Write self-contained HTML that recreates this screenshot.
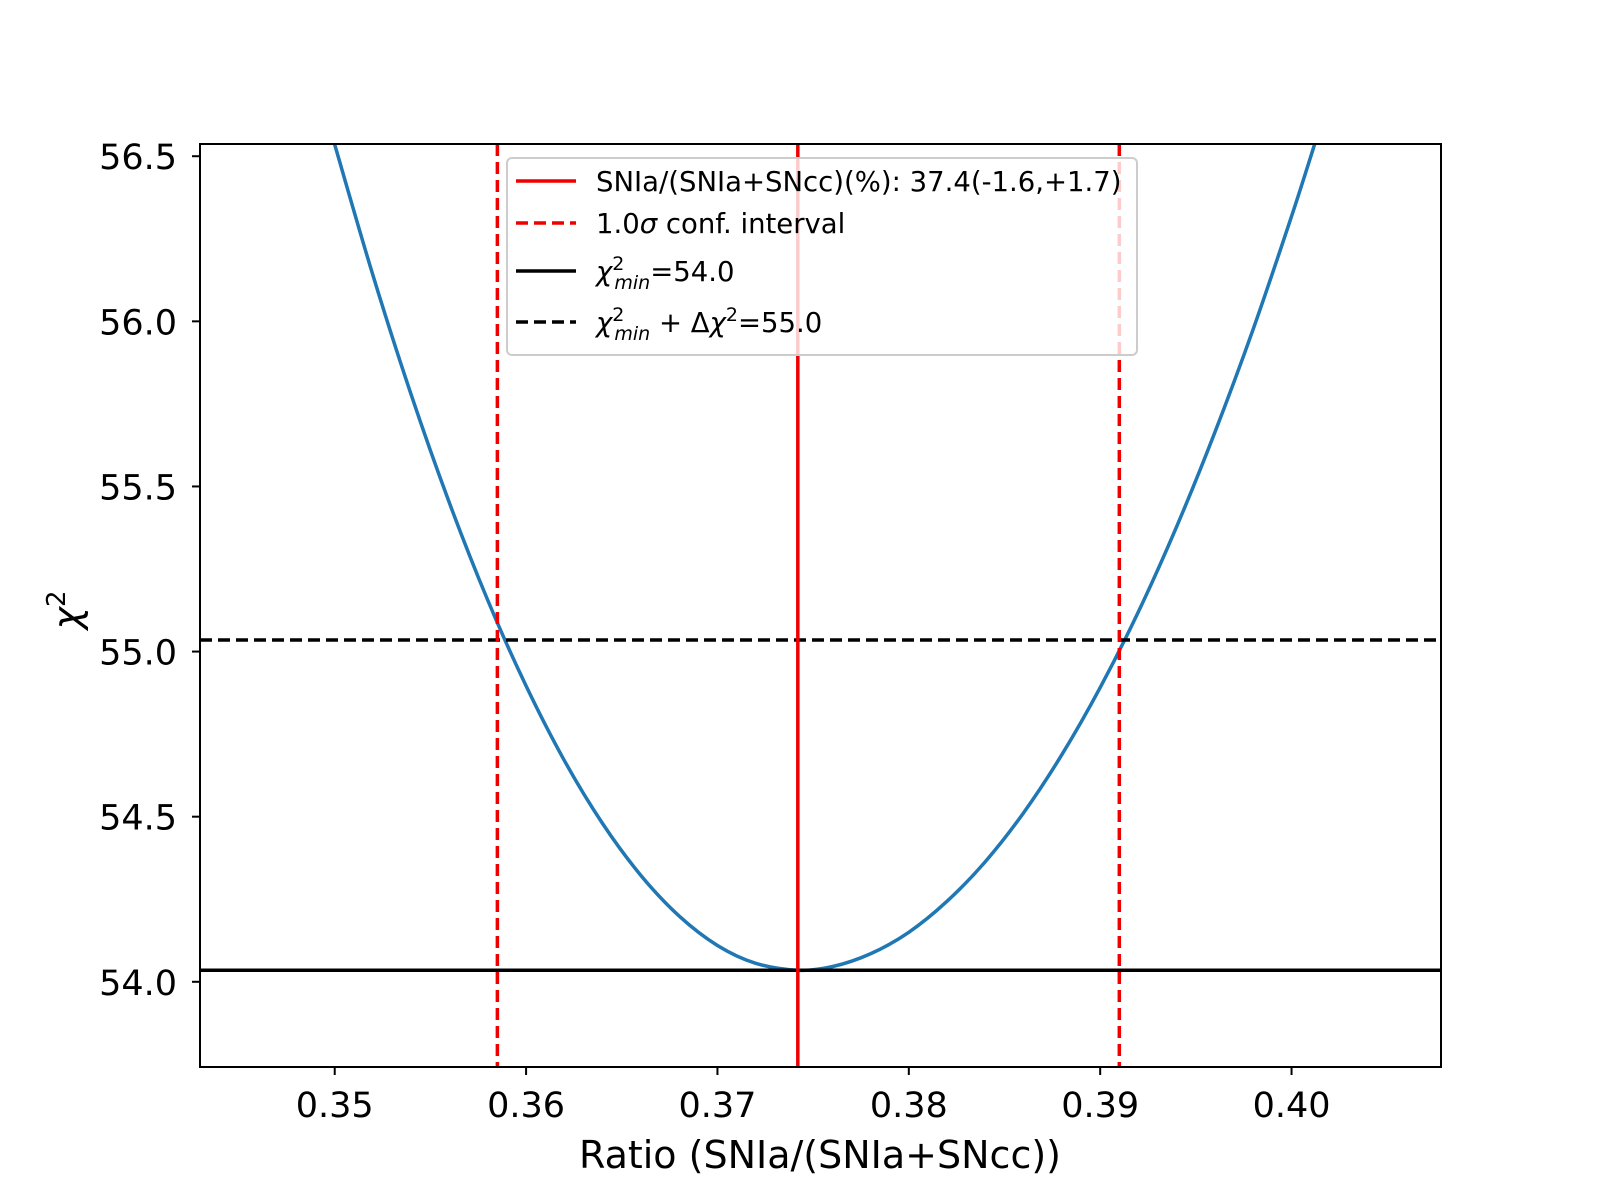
<!DOCTYPE html>
<html><head><meta charset="utf-8"><style>
body{margin:0;background:#fff}
svg{display:block}
text{font-family:"DejaVu Sans","Liberation Sans",sans-serif;fill:#000}
</style></head><body>
<svg id="chart" width="1600" height="1200" viewBox="0 0 1600 1200">
<defs><clipPath id="clip"><rect x="200" y="144" width="1241" height="923"/></clipPath></defs>
<g id="ticks"></g>
<g id="plot" clip-path="url(#clip)"></g>
<rect x="200" y="144" width="1241" height="923" fill="none" stroke="#000" stroke-width="2"/>
<text x="820" y="1168" font-size="38" text-anchor="middle">Ratio (SNIa/(SNIa+SNcc))</text>
<text transform="translate(80,610) rotate(-90)" font-size="38" text-anchor="middle"><tspan font-style="italic">χ</tspan><tspan font-size="26" dy="-15">2</tspan></text>
<g id="legend">
<rect x="507" y="158" width="630" height="197" rx="5" fill="#fff" fill-opacity="0.8" stroke="#ccc" stroke-width="2"/>
<g><line x1="516" y1="181" x2="576" y2="181" stroke="#e00" stroke-width="3.5"/><text x="596" y="191" font-size="27.5">SNIa/(SNIa+SNcc)(%): 37.4(-1.6,+1.7)</text></g>
<g><line x1="516" y1="223" x2="576" y2="223" stroke="#e00" stroke-width="3.5" stroke-dasharray="12,6"/><text x="596" y="233" font-size="27.5">1.0<tspan font-style="italic">σ</tspan> conf. interval</text></g>
<g><line x1="516" y1="271" x2="576" y2="271" stroke="#000" stroke-width="3.5"/><text x="596" y="281" font-size="27.5"><tspan font-style="italic">χ</tspan><tspan font-size="19" dy="-11">2</tspan><tspan font-size="19" font-style="italic" dx="-10" dy="19">min</tspan><tspan dy="-8">=54.0</tspan></text></g>
<g><line x1="516" y1="322" x2="576" y2="322" stroke="#000" stroke-width="3.5" stroke-dasharray="12,6"/><text x="596" y="332" font-size="27.5"><tspan font-style="italic">χ</tspan><tspan font-size="19" dy="-11">2</tspan><tspan font-size="19" font-style="italic" dx="-10" dy="19">min</tspan><tspan dy="-8"> + Δ</tspan><tspan font-style="italic">χ</tspan><tspan font-size="19" dy="-11">2</tspan><tspan dy="11">=55.0</tspan></text></g>
</g>
</svg>
<script>
const curveX=[0.350,0.352,0.354,0.356,0.358,0.360,0.362,0.364,0.366,0.368,0.370,0.372,0.3742,0.376,0.378,0.380,0.382,0.384,0.386,0.388,0.390,0.392,0.394,0.396,0.398,0.400,0.4012];
const curveY=[56.535,56.139,55.777,55.449,55.155,54.896,54.670,54.479,54.322,54.199,54.110,54.056,54.035,54.046,54.085,54.150,54.244,54.364,54.512,54.688,54.891,55.121,55.379,55.665,55.977,56.318,56.535];
const bestFit=[0.3742];
const confBounds=[0.3585,0.3910];
const chi2Min=[54.035];
const chi2Delta=[55.035];
const xTicks=[0.35,0.36,0.37,0.38,0.39,0.40];
const xTickLabels=["0.35","0.36","0.37","0.38","0.39","0.40"];
const yTicks=[54.0,54.5,55.0,55.5,56.0,56.5];
const yTickLabels=["54.0","54.5","55.0","55.5","56.0","56.5"];

const X0=200,X1=1441,Y0=1067,Y1=144;
const xmin=0.34296,xmax=0.40781,ymin=53.742,ymax=56.537;
const sx=v=>X0+(v-xmin)/(xmax-xmin)*(X1-X0);
const sy=v=>Y0-(v-ymin)/(ymax-ymin)*(Y0-Y1);
const NS="http://www.w3.org/2000/svg";
function mk(tag,attrs,parent){const e=document.createElementNS(NS,tag);for(const k in attrs)e.setAttribute(k,attrs[k]);parent.appendChild(e);return e;}
const plot=document.getElementById('plot'),ticks=document.getElementById('ticks');

xTicks.forEach((t,i)=>{
  const l=mk('line',{x1:sx(t),x2:sx(t),y1:Y0,y2:Y0+8,stroke:'#000','stroke-width':2},ticks);
  
  
  const tx=mk('text',{x:sx(t),y:Y0+50,'font-size':35,'text-anchor':'middle'},ticks);
  tx.textContent=xTickLabels[i];
  
  
});
yTicks.forEach((t,i)=>{
  const l=mk('line',{x1:X0-8,x2:X0,y1:sy(t),y2:sy(t),stroke:'#000','stroke-width':2},ticks);
  
  
  const tx=mk('text',{x:X0-23,y:sy(t)+13,'font-size':35,'text-anchor':'end'},ticks);
  tx.textContent=yTickLabels[i];
  
  
});

const P=curveX.map((x,i)=>[sx(x),sy(curveY[i])]);
let d=`M${P[0][0]},${P[0][1]}`;
for(let i=0;i<P.length-1;i++){
  const p0=P[Math.max(0,i-1)],p1=P[i],p2=P[i+1],p3=P[Math.min(P.length-1,i+2)];
  d+=` C${p1[0]+(p2[0]-p0[0])/6},${p1[1]+(p2[1]-p0[1])/6} ${p2[0]-(p3[0]-p1[0])/6},${p2[1]-(p3[1]-p1[1])/6} ${p2[0]},${p2[1]}`;
}
const c=mk('path',{d:d,fill:'none',stroke:'#1f77b4','stroke-width':3.5},plot);



const hm=mk('line',{x1:X0,x2:X1,y1:sy(chi2Min[0]),y2:sy(chi2Min[0]),stroke:'#000','stroke-width':3.5},plot);


const hd=mk('line',{x1:X0,x2:X1,y1:sy(chi2Delta[0]),y2:sy(chi2Delta[0]),stroke:'#000','stroke-width':3.5,'stroke-dasharray':'12,6'},plot);


const vb=mk('line',{x1:sx(bestFit[0]),x2:sx(bestFit[0]),y1:Y1,y2:Y0,stroke:'#e00','stroke-width':3.5},plot);


confBounds.forEach(b=>{
  const v=mk('line',{x1:sx(b),x2:sx(b),y1:Y1,y2:Y0,stroke:'#e00','stroke-width':3.5,'stroke-dasharray':'12,6'},plot);
  
  
});
</script>
</body></html>
